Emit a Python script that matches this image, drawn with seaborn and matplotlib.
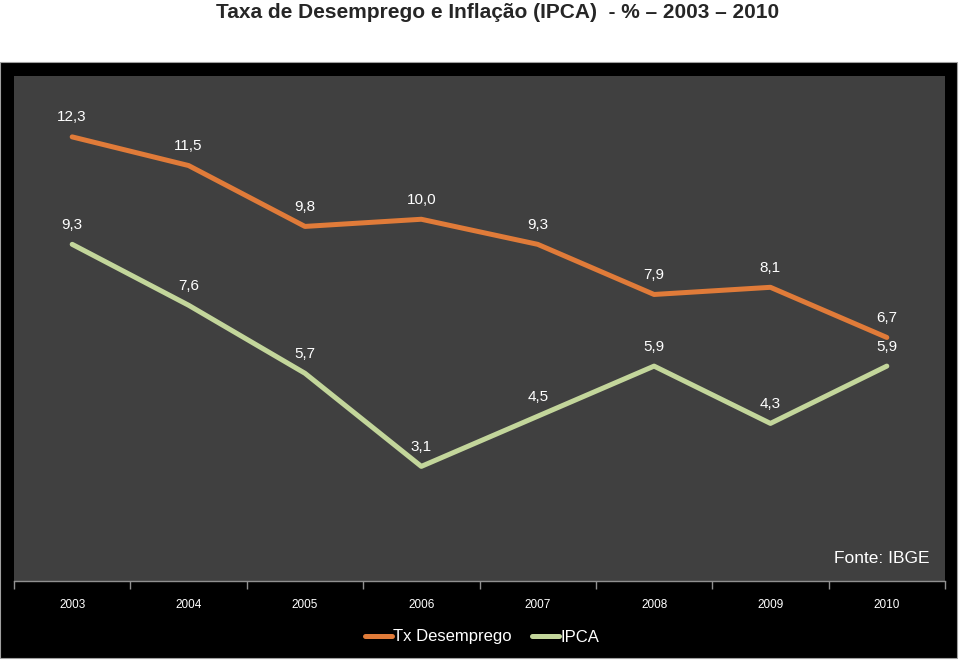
import matplotlib
matplotlib.use("Agg")
import matplotlib.pyplot as plt
from matplotlib.patches import Rectangle
import seaborn as sns
import pandas as pd
import numpy as np

# data
years = ["2003", "2004", "2005", "2006", "2007", "2008", "2009", "2010"]
desemprego = [12.3, 11.5, 9.8, 10.0, 9.3, 7.9, 8.1, 6.7]
ipca = [9.3, 7.6, 5.7, 3.1, 4.5, 5.9, 4.3, 5.9]

orange = "#E07B39"
green = "#C3D69B"

df = pd.DataFrame({
    "pos": list(range(len(years))) * 2,
    "valor": desemprego + ipca,
    "serie": ["Tx Desemprego"] * len(years) + ["IPCA"] * len(years),
})

sns.set_style("white")
plt.rcParams["font.family"] = ["Liberation Sans", "DejaVu Sans"]

fig = plt.figure(figsize=(9.6, 6.6), dpi=100)
fig.patch.set_facecolor("white")

# black chart frame
frame = Rectangle((0.0, 0.003), 957 / 960, (658 - 62) / 660,
                  transform=fig.transFigure, facecolor="black",
                  edgecolor="#A0A0A0", linewidth=0.8, zorder=-10)
fig.patches.append(frame)

ax = fig.add_axes([14 / 960, 79 / 660, (945 - 14) / 960, (581 - 76) / 660])
ax.set_zorder(1)
ax.set_facecolor("#404040")

sns.lineplot(data=df, x="pos", y="valor", hue="serie",
             palette={"Tx Desemprego": orange, "IPCA": green},
             linewidth=3.6, ax=ax, legend=True)
for ln in ax.lines:
    ln.set_solid_capstyle("round")
    ln.set_solid_joinstyle("round")

for i in range(len(years)):
    ax.annotate(f"{desemprego[i]:.1f}".replace(".", ","), (i, desemprego[i]),
                xytext=(0, 9), textcoords="offset points", ha="center",
                va="bottom", color="white", fontsize=11)
    ax.annotate(f"{ipca[i]:.1f}".replace(".", ","), (i, ipca[i]),
                xytext=(0, 9), textcoords="offset points", ha="center",
                va="bottom", color="white", fontsize=11)

ax.set_xlim(-0.5, len(years) - 0.5)
ax.set_ylim(-0.1, 14.0)
ax.set_yticks([])
ax.set_xticks(range(len(years)))
ax.set_xticklabels(years, color="white", fontsize=8.5)
ax.set_xticks(np.arange(-0.5, len(years)), minor=True)
ax.tick_params(axis="x", which="major", length=0, pad=13)
ax.tick_params(axis="x", which="minor", bottom=True, length=6,
               color="#909090", width=1, direction="out")
ax.set_xlabel("")
ax.set_ylabel("")
for s in ["top", "right", "left"]:
    ax.spines[s].set_visible(False)
ax.spines["bottom"].set_color("#909090")
ax.spines["bottom"].set_linewidth(1)

ax.text((930 - 14) / 931, 0.045, "Fonte: IBGE", transform=ax.transAxes,
        ha="right", va="center", color="white", fontsize=12.5)

handles, labels = ax.get_legend_handles_labels()
leg = ax.legend(handles, labels, loc="center",
                bbox_to_anchor=(482 / 960, 1 - 637 / 660),
                bbox_transform=fig.transFigure, ncol=2, frameon=False,
                fontsize=12, handlelength=1.6, handletextpad=0.1,
                columnspacing=1.2, labelcolor="white")

fig.text(498 / 960, 1 - 12 / 660, "Taxa de Desemprego e Inflação (IPCA)  - % \u2013 2003 \u2013 2010",
         ha="center", va="center", fontsize=15, fontweight="bold",
         family=["Liberation Sans Narrow", "Liberation Sans", "DejaVu Sans"])

fig.savefig("out.png", dpi=100, facecolor=fig.get_facecolor())
